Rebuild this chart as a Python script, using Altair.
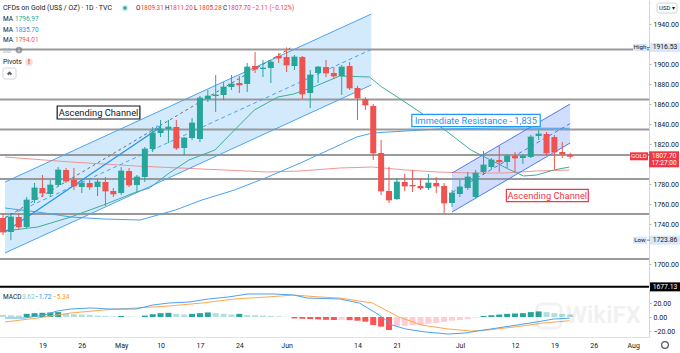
import json
import altair as alt
import pandas as pd

FONT = "Roboto"
UP, DOWN = "#26a69a", "#ef5350"

# ---------------- data (bar index 0 = Apr 19) ----------------
IDX = list(range(-5, 68))
OPEN = [1746, 1732, 1747, 1737, 1764,
        1776, 1770, 1779, 1794, 1784,
        1777, 1781, 1777, 1782, 1773,
        1771, 1793, 1779, 1787, 1815,
        1831, 1835, 1837, 1816, 1826,
        1825, 1865, 1868, 1869, 1877,
        1881, 1880, 1898, 1895, 1896,
        1908, 1907, 1898, 1907, 1871,
        1891, 1897, 1891, 1888, 1898,
        1876, 1865, 1858, 1811, 1773,
        1765, 1782, 1779, 1778, 1776,
        1781, 1778, 1761, 1770, 1776,
        1767, 1792, 1797, 1804, 1802,
        1808, 1806, 1807, 1828, 1830,
        1827, 1812, 1809.31]
HIGH = [1750, 1751, 1751, 1767, 1781,
        1789, 1784, 1797, 1796, 1796,
        1785, 1784, 1785, 1787, 1776,
        1797, 1796, 1789, 1817, 1837,
        1844, 1844, 1844, 1827, 1846,
        1868, 1874, 1889, 1882, 1889,
        1888, 1901, 1912, 1904, 1904,
        1911, 1916.53, 1909, 1908, 1894,
        1898, 1904, 1897, 1899, 1902,
        1878, 1867, 1860, 1824, 1797,
        1786, 1790, 1794, 1786, 1790,
        1787, 1781, 1774, 1784, 1792,
        1794, 1813, 1806, 1818, 1810,
        1812, 1810, 1829, 1834, 1832,
        1829, 1822, 1811.2]
LOW = [1729, 1723.86, 1735, 1736, 1761,
       1767, 1767, 1778, 1781, 1774,
       1771, 1774, 1768, 1758, 1767,
       1769, 1777, 1771, 1782, 1812,
       1827, 1821, 1814, 1809, 1824,
       1822, 1862, 1852, 1864, 1874,
       1871, 1872, 1891, 1887, 1881,
       1901, 1892, 1894, 1865, 1856,
       1881, 1887, 1885, 1869, 1874,
       1844, 1854, 1804, 1769, 1761,
       1764, 1773, 1772, 1774, 1774,
       1771, 1751, 1757, 1767, 1774,
       1765, 1789, 1795, 1792, 1796,
       1792, 1800, 1806, 1824, 1809,
       1795, 1806, 1805.28]
CLOSE = [1732, 1747, 1737, 1764, 1776,
         1771, 1779, 1794, 1783, 1778,
         1781, 1777, 1782, 1773, 1770,
         1793, 1779, 1787, 1815, 1831,
         1835, 1837, 1816, 1826, 1841,
         1866, 1868, 1869, 1877, 1880,
         1879, 1897, 1895, 1896, 1902,
         1906, 1899, 1907, 1870, 1889,
         1897, 1891, 1888, 1897, 1876,
         1866, 1859, 1811, 1773, 1764,
         1782, 1778, 1778, 1776, 1781,
         1778, 1761, 1771, 1777, 1787,
         1791, 1799, 1804, 1802, 1808,
         1806, 1808, 1827, 1830, 1811,
         1812, 1810, 1807.7]
HIST = [3, 2.5, 2.2, 4.5, 5.5,
        6, 6.5, 7, 5, 4,
        3.5, 3, 2, 1.5, 1,
        1.5, 0.7, 0.4, 2, 4,
        5.5, 6, 4.5, 3.5, 4.5,
        5.5, 6.5, 5.5, 4.5, 3.5,
        4.5, 3, 2.5, 2, 1.5,
        1, 0.3, -2, -2.5, -3,
        -3.5, -4, -4.3, -3.8, -4.5,
        -5.3, -6.7, -11.4, -13.8, -18.6,
        -13, -12.4, -12, -11.4, -9.5,
        -8.6, -7.1, -5.2, -4.3, -3.3,
        -1, 1.5, 2.5, 3.5, 4.5,
        5, 5.5, 7, 8, 7,
        5.5, 4.5, 3.62]

MA20_I = [-4.75, -0.6, 3.6, 7.75, 11.9, 13.6, 16.1, 18.6, 21.9, 24.4, 26.9, 29.9, 31.9, 34.4,
          37.75, 41.5, 43.1, 45.25, 48.1, 51.1, 54.4, 56.9, 59.4, 61.1, 62.75, 64.9, 66.9]
MA20_V = [1733, 1737, 1747, 1759, 1772, 1776, 1791, 1804, 1814, 1834, 1854, 1867, 1870, 1877,
          1888, 1887, 1877, 1866, 1851, 1834, 1814, 1804, 1794, 1788, 1789, 1794, 1796.97]
MA50_I = [-4.75, -0.6, 3.6, 7.75, 12.4, 16.9, 20.25, 24.4, 28.6, 32.75, 36.9, 39.9, 41.9, 46.1,
          50.25, 58.6, 66.9]
MA50_V = [1756, 1752, 1747, 1745, 1744, 1754, 1764, 1774, 1787, 1801, 1816, 1827, 1831, 1833,
          1835, 1836, 1835.7]
MA100_I = [-4.75, 3.6, 11.9, 20.25, 28.6, 32.75, 37.75, 41.9, 46.1, 50.25, 54.4, 58.6, 62.75, 66.9]
MA100_V = [1807, 1802, 1798, 1795, 1792, 1793, 1796, 1797, 1794, 1792, 1791, 1791, 1793, 1794.01]

MACD_I = [-4.75, -2.25, 0.25, 1.9, 3.6, 6.1, 8.6, 11.9, 14, 16.1, 18.6, 21.1, 23.6, 26.1, 29.4,
          31.9, 33.6, 37.75, 40.25, 42.75, 44.4, 46.1, 48.6, 51.5, 53.6, 55.25, 58.6, 62.75, 64.9, 66.9]
MACD_V = [-1.4, -1.4, 2.9, 8.6, 11.4, 12.9, 11.4, 11.4, 17.1, 20, 21.4, 25.7, 28.6, 32.9, 32.9,
          31.4, 27.1, 25.7, 20, 2.9, -11.4, -17.1, -21.4, -24.3, -22.9, -20, -14.3, -7.1, -2.9, -1.72]
SIG_I = [-4.75, -0.6, 3.6, 7.75, 11.9, 16.1, 20.25, 24.4, 28.6, 31.9, 35.25, 37.75, 41.9, 45.25,
         48.1, 51.5, 54.4, 56.5, 59.9, 63.6, 66.9]
SIG_V = [-7.1, -1.4, 5.7, 10, 12.9, 15.7, 20, 25.7, 28.6, 31.4, 28.6, 27.1, 20, 0,
         -11.4, -17.1, -20, -18.6, -14.3, -8.6, -5.34]

LEVELS = [1914.5, 1864.5, 1834.5, 1809, 1785, 1750, 1705]
BLACK_LEVEL = 1677.13
HIGH_VAL, LOW_VAL, LAST_VAL = 1916.53, 1723.86, 1807.70

LCH_I = [-4.75, 41.75]
LCH_UP = [1782, 1950]
LCH_LO = [1711, 1879]
LCH_MID = [1746.5, 1914.5]
RCH_I = [52, 67]
RCH_UP = [1791, 1860]
RCH_LO = [1752, 1821]
RCH_MID = [1771.5, 1840.5]
TREND_I = [-4.75, 31.5]
TREND_V = [1746, 1916]
ARROW_I = [-4.75, 15]
ARROW_V = [1732, 1837]

BOX_TEXT = ["Ascending Channel", "Immediate Resistance - 1,835", "Ascending Channel"]
BOX_I0 = [1.875, 46.9, 58.9]
BOX_I1 = [12.375, 63.2, 69.3]
BOX_P0 = [1845, 1837.3, 1762.3]
BOX_P1 = [1858, 1849.7, 1774.7]
BOX_COL = ["#131722", "#2196f3", "#f23645"]

TICK_IDX = [0, 5, 10, 15, 20, 25, 31, 40, 45, 53, 60, 65, 70, 75]
TICK_LBL = ["19", "26", "May", "10", "17", "24", "Jun", "14", "21", "Jul", "12", "19", "26", "Aug"]
PRICE_TICKS = [1700, 1740, 1760, 1780, 1820, 1840, 1860, 1880, 1900, 1940]
MACD_TICKS = [-20, 0, 20]

TITLE = "CFDs on Gold (US$ / OZ) · 1D · TVC"
OHLC_KEYS = ["O", "H", "L", "C"]
OHLC_VALS = ["1809.31", "1811.20", "1805.28", "1807.70"]
CHANGE = "−2.11 (−0.12%)"
MA_VALS = ["1796.97", "1835.70", "1794.01"]
MACD_VALS = ["3.62", "−1.72", "−5.34"]

# ---------------- scales & axes ----------------
xs = alt.Scale(domain=[-4.75, 76.375], nice=False, zero=False)
ps = alt.Scale(domain=[1677, 1964], range=[287, 0], nice=False, zero=False)
ms = alt.Scale(domain=[-28.57, 40], range=[337, 289], nice=False, zero=False)

AX = dict(title=None, grid=False, labelFont=FONT, labelFontSize=7, labelColor="#131722",
          labelOverlap=False, labelFlush=False)
price_axis = alt.Axis(orient="right", values=PRICE_TICKS, format=".2f", tickSize=2,
                      tickColor="#b2b5be", domainColor="#d1d4dc", labelPadding=2, **AX)
macd_axis = alt.Axis(orient="right", values=MACD_TICKS, format=".2f", tickSize=2,
                     tickColor="#b2b5be", domainColor="#d1d4dc", labelPadding=2, **AX)
lbl_expr = f"{json.dumps(TICK_LBL)}[indexof({json.dumps(TICK_IDX)}, datum.value)]"
x_axis = alt.Axis(values=TICK_IDX, labelExpr=lbl_expr, ticks=False, domainColor="#e0e3eb",
                  labelPadding=4, **AX)


def X(f="i"):
    return alt.X(f"{f}:Q", scale=xs, axis=x_axis)


def PY(f):
    return alt.Y(f"{f}:Q", scale=ps, axis=price_axis)


def MY(f):
    return alt.Y(f"{f}:Q", scale=ms, axis=macd_axis)


def one(**kw):
    return pd.DataFrame({k: [v] for k, v in kw.items()}) if kw else pd.DataFrame({"a": [0]})


def T(s, x, y, color="#131722", size=7.0, align="left", weight="normal", opacity=1.0):
    return alt.Chart(one(t=s)).mark_text(
        align=align, baseline="middle", fontSize=size, font=FONT, fontWeight=weight,
        color=color, opacity=opacity
    ).encode(x=alt.value(x), y=alt.value(y), text="t:N")


def line(i, v, color, width=1.0, dash=None, macd=False):
    df = pd.DataFrame({"i": i, "v": v})
    kw = dict(color=color, strokeWidth=width)
    if dash:
        kw["strokeDash"] = dash
    return alt.Chart(df).mark_line(**kw).encode(x=X(), y=(MY("v") if macd else PY("v")))


# ---------------- price pane ----------------
cdf = pd.DataFrame({"i": IDX, "o": OPEN, "h": HIGH, "l": LOW, "c": CLOSE})
cdf["d"] = ["up" if c >= o else "down" for o, c in zip(OPEN, CLOSE)]
cscale = alt.Scale(domain=["up", "down"], range=[UP, DOWN])

lch = pd.DataFrame({"i": LCH_I, "u": LCH_UP, "lo": LCH_LO})
rch = pd.DataFrame({"i": RCH_I, "u": RCH_UP, "lo": RCH_LO})
lfill = alt.Chart(lch).mark_area(color="#2196f3", opacity=0.2).encode(x=X(), y=PY("u"), y2="lo:Q")
rfill = alt.Chart(rch).mark_area(color="#2962ff", opacity=0.22).encode(x=X(), y=PY("u"), y2="lo:Q")

levels = alt.Chart(pd.DataFrame({"p": LEVELS})).mark_rule(color="#9a9a9a", strokeWidth=2).encode(y=PY("p"))
black = alt.Chart(one(p=BLACK_LEVEL)).mark_rule(color="#000000", strokeWidth=2).encode(y=PY("p"))

ma20 = line(MA20_I, MA20_V, "#3fae96")
ma50 = line(MA50_I, MA50_V, "#4aa3f0")
ma100 = line(MA100_I, MA100_V, "#f2958f")

lup = line(LCH_I, LCH_UP, "#4aa3f0")
llo = line(LCH_I, LCH_LO, "#4aa3f0")
lmid = line(LCH_I, LCH_MID, "#4aa3f0", dash=[4, 3])
rup = line(RCH_I, RCH_UP, "#4d7cf5")
rlo = line(RCH_I, RCH_LO, "#4d7cf5")
rmid = line(RCH_I, RCH_MID, "#4d7cf5", dash=[4, 3])
trend = line(TREND_I, TREND_V, "#6a6d78", dash=[3, 3])
arrow = line(ARROW_I, ARROW_V, "#2196f3", width=1.3)
arrowhead = alt.Chart(one(i=ARROW_I[-1], v=ARROW_V[-1])).mark_point(
    shape="M-1,1L0,0L1,1", size=40, angle=56, filled=False, color="#2196f3", strokeWidth=1.3
).encode(x=X(), y=PY("v"))

wicks = alt.Chart(cdf).mark_rule(strokeWidth=1).encode(
    x=X(), y=PY("l"), y2="h:Q", color=alt.Color("d:N", scale=cscale, legend=None))
bodies = alt.Chart(cdf).mark_bar(size=6).encode(
    x=X(), y=PY("o"), y2="c:Q", color=alt.Color("d:N", scale=cscale, legend=None))
dojis = alt.Chart(cdf).mark_tick(orient="horizontal", size=6, thickness=1).encode(
    x=X(), y=PY("c"), color=alt.Color("d:N", scale=cscale, legend=None))

bdf = pd.DataFrame({"t": BOX_TEXT, "i0": BOX_I0, "i1": BOX_I1, "p0": BOX_P0, "p1": BOX_P1, "col": BOX_COL})
bdf["ic"] = (bdf["i0"] + bdf["i1"]) / 2
bdf["pc"] = (bdf["p0"] + bdf["p1"]) / 2
boxes = alt.Chart(bdf).mark_rect(fill="white", strokeWidth=1.2).encode(
    x=X("i0"), x2="i1:Q", y=PY("p0"), y2="p1:Q", stroke=alt.Stroke("col:N", scale=None))
box_txt = alt.Chart(bdf).mark_text(fontSize=9.3, font=FONT, baseline="middle", align="center").encode(
    x=X("ic"), y=PY("pc"), text="t:N", color=alt.Color("col:N", scale=None))


def tag(p, x0, x1, color, width=9, yoff=0):
    return alt.Chart(one(p=p)).mark_rule(color=color, strokeWidth=width, strokeCap="butt", yOffset=yoff).encode(
        x=alt.value(x0), x2=alt.value(x1), y=PY("p"))


def tag_text(p, s, x, color, size=6.8, yoff=0, align="center"):
    return alt.Chart(one(p=p, t=s)).mark_text(fontSize=size, font=FONT, color=color, baseline="middle",
                                              align=align, yOffset=yoff).encode(
        x=alt.value(x), y=PY("p"), text="t:N")


tags = [
    tag(HIGH_VAL, 633, 647, "#d6e8fb", 7), tag_text(HIGH_VAL, "High", 640, "#131722", 6.2),
    tag(HIGH_VAL, 647, 650, "#787b86", 1), tag(HIGH_VAL, 650, 680, "#d6e8fb"),
    tag_text(HIGH_VAL, f"{HIGH_VAL:.2f}", 665, "#131722"),
    tag(LOW_VAL, 633, 647, "#d6e8fb", 7), tag_text(LOW_VAL, "Low", 640, "#131722", 6.2),
    tag(LOW_VAL, 647, 650, "#787b86", 1), tag(LOW_VAL, 650, 680, "#d6e8fb"),
    tag_text(LOW_VAL, f"{LOW_VAL:.2f}", 665, "#131722"),
    tag(BLACK_LEVEL, 650, 680, "#000000"), tag_text(BLACK_LEVEL, f"{BLACK_LEVEL:.2f}", 665, "white"),
    tag(LAST_VAL, 630, 648, "#f23645", 8), tag_text(LAST_VAL, "GOLD", 639, "white", 6.2),
    tag(LAST_VAL, 649, 679, "#f23645", 16, 3), tag_text(LAST_VAL, f"{LAST_VAL:.2f}", 664, "white"),
    tag_text(LAST_VAL, "17:27:00", 664, "white", 6.5, 7),
]

# legend / header
hdr = [T(TITLE, 3, 8)]
hdr.append(alt.Chart(one()).mark_point(filled=True, color="#d5efe9", size=45, opacity=1).encode(x=alt.value(125), y=alt.value(8)))
hdr.append(alt.Chart(one()).mark_point(filled=True, color="#26a69a", size=12, opacity=1).encode(x=alt.value(125), y=alt.value(8)))
for k, (key, val) in enumerate(zip(OHLC_KEYS, OHLC_VALS)):
    x0 = 136 + 29 * k
    hdr.append(T(key, x0, 8, "#131722", 6.3))
    hdr.append(T(val, x0 + 4.8, 8, "#f23645", 6.3))
hdr.append(T(CHANGE, 136 + 29 * 4, 8, "#f23645", 6.3))
for k, (val, col) in enumerate(zip(MA_VALS, ["#22ab94", "#2196f3", "#f7525f"])):
    y0 = 19 + 10.7 * k
    hdr.append(T("MA", 3, y0, "#131722", 6.5))
    hdr.append(T(val, 15, y0, col, 6.5))
hdr.append(T("BB", 3, 50.5, "#b2b5be", 6.5))
hdr.append(alt.Chart(one()).mark_point(filled=False, color="#787b86", size=22).encode(x=alt.value(19), y=alt.value(50)))
hdr.append(T("Pivots", 3, 62, "#131722", 6.8))
hdr.append(alt.Chart(one()).mark_point(filled=True, color="#fcdada", size=60, opacity=1).encode(x=alt.value(29), y=alt.value(62)))
hdr.append(T("!", 29, 62, "#f23645", 7, "center", "bold"))
hdr.append(alt.Chart(one()).mark_rect(fill="white", stroke="#d1d4dc", cornerRadius=2).encode(
    x=alt.value(3), x2=alt.value(16), y=alt.value(68), y2=alt.value(79)))
hdr.append(alt.Chart(one()).mark_point(shape="M-1,0.5L0,-0.5L1,0.5", size=14, filled=False, color="#131722").encode(
    x=alt.value(9.5), y=alt.value(73.5)))
hdr.append(alt.Chart(one()).mark_rect(fill="white", stroke="#d1d4dc", cornerRadius=2).encode(
    x=alt.value(657), x2=alt.value(677), y=alt.value(3), y2=alt.value(13)))
hdr.append(T("USD ▾", 667, 8, "#131722", 6, "center"))

price = alt.layer(lfill, rfill, levels, black, ma100, ma50, ma20, lup, llo, lmid, rup, rlo, rmid,
                  trend, arrow, arrowhead, wicks, bodies, dojis, boxes, box_txt, *tags, *hdr)

# ---------------- MACD pane ----------------
hdf = pd.DataFrame({"i": IDX, "h": HIST})
hdf["z"] = 0.0
cols = []
prev = None
for h in HIST:
    if h >= 0:
        cols.append("#26a69a" if (prev is not None and h >= prev) else "#b2dfdb")
    else:
        cols.append("#ff5252" if (prev is not None and h < prev) else "#ffcdd2")
    prev = h
hdf["col"] = cols
bars = alt.Chart(hdf).mark_bar(size=6).encode(
    x=X(), y=MY("h"), y2="z:Q", color=alt.Color("col:N", scale=None))
macd_line = line(MACD_I, MACD_V, "#4aa3f0", macd=True)
sig_line = line(SIG_I, SIG_V, "#ffa64d", macd=True)
macd_txt = [T("MACD", 3, 297, "#131722", 6.5), T(MACD_VALS[0], 22, 297, "#80cbc4", 6.5),
            T(MACD_VALS[1], 35, 297, "#2196f3", 6.5), T(MACD_VALS[2], 53, 297, "#ff9800", 6.5)]
wm = [
    alt.Chart(one()).mark_rect(fill=None, stroke="#000000", strokeWidth=3, cornerRadius=5, opacity=0.05).encode(
        x=alt.value(537), x2=alt.value(561), y=alt.value(304), y2=alt.value(328)),
    T("WikiFX", 566, 316, "#000000", 24, "left", "bold", 0.05),
]
gear = alt.Chart(one()).mark_point(filled=False, color="#131722", size=45, strokeWidth=1.3).encode(
    x=alt.value(665), y=alt.value(345))

macd = alt.layer(bars, sig_line, macd_line, *macd_txt, *wm, gear)

chart = alt.layer(price, macd).resolve_scale(y="independent").properties(
    width=649, height=337,
    autosize=alt.AutoSizeParams(type="none"),
    padding={"left": 0, "top": 0, "right": 31, "bottom": 16},
    background="white",
).configure_view(stroke=None)

chart.save("out.html", embed_options={"renderer": "svg", "actions": False})
